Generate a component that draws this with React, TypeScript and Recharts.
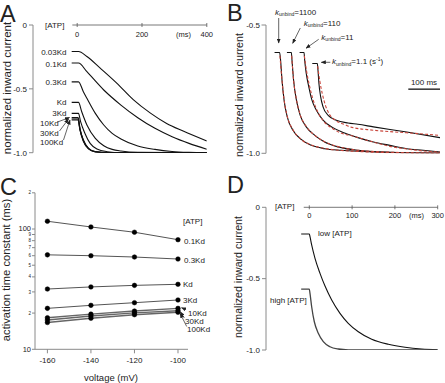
import React from 'react';
import { LineChart, Line, XAxis, YAxis, ReferenceLine } from 'recharts';

const FONT = '"Liberation Sans", Arial, Helvetica, sans-serif';
const AX = '#8a8a8a';
const TXT = '#222';
const RED = '#c8443a';

// ---------- Panel A : current traces at several [ATP] ----------
const A_TIME_TICKS = [0, 200, 400];
const A_Y_TICKS = [0, -0.5, -1];
const A_T_003 = [-17, 4, 30, 71, 122, 173, 225, 276, 327, 400];
const A_V_003 = [-0.208, -0.208, -0.247, -0.338, -0.455, -0.584, -0.688, -0.771, -0.831, -0.909];
const A_T_01 = [-17, 4, 30, 82, 135, 187, 240, 293, 345, 400];
const A_V_01 = [-0.298, -0.298, -0.366, -0.509, -0.627, -0.726, -0.809, -0.875, -0.927, -0.973];
const A_T_03 = [-17, 4, 19, 30, 56, 82, 108, 135, 187, 240, 293, 345, 400];
const A_V_03 = [-0.445, -0.445, -0.522, -0.574, -0.692, -0.783, -0.849, -0.893, -0.948, -0.974, -0.99, -0.997, -1.0];
const A_T_1 = [-17, 4, 14, 30, 56, 82, 108, 135, 187, 400];
const A_V_1 = [-0.606, -0.606, -0.679, -0.783, -0.888, -0.945, -0.974, -0.987, -0.997, -1.0];
const A_T_3 = [-17, 4, 10.5, 24, 40, 61, 93, 135, 400];
const A_V_3 = [-0.692, -0.692, -0.757, -0.849, -0.927, -0.971, -0.992, -1.0, -1.0];
const A_T_10 = [-17, 3, 8.4, 19, 35, 56, 93, 400];
const A_V_10 = [-0.726, -0.726, -0.809, -0.901, -0.966, -0.992, -1.0, -1.0];
const A_V_30 = [-0.736, -0.736, -0.815, -0.905, -0.968, -0.993, -1.0, -1.0];
const A_V_100 = [-0.744, -0.744, -0.82, -0.91, -0.97, -0.994, -1.0, -1.0];

// ---------- Panel B : traces for several k_unbind (black) and fits (red) ----------
const B_Y_TICKS = [-0.5, -1];
const B_T_1100 = [27, 43, 46, 50.5, 57, 67, 85, 111, 143, 185, 238, 290, 400, 549];
const B_V_1100 = [-0.607, -0.607, -0.637, -0.715, -0.793, -0.858, -0.91, -0.946, -0.969, -0.982, -0.988, -0.992, -0.997, -0.999];
const B_T_110 = [66, 80, 82, 87, 96, 108, 127, 154, 185, 227, 290, 400, 549];
const B_V_110 = [-0.607, -0.607, -0.637, -0.715, -0.793, -0.852, -0.897, -0.93, -0.956, -0.975, -0.988, -0.996, -1.0];
const B_T_11 = [106, 120, 122, 127, 135, 145, 159, 180, 211, 248, 290, 339, 391, 444, 496, 549];
const B_V_11 = [-0.607, -0.607, -0.637, -0.689, -0.741, -0.793, -0.832, -0.871, -0.9, -0.921, -0.939, -0.956, -0.969, -0.982, -0.988, -0.995];
const B_T_1_1 = [146, 162, 164, 167, 172.5, 180, 196, 222, 259, 290, 339, 444, 549];
const B_V_1_1 = [-0.65, -0.65, -0.676, -0.728, -0.78, -0.819, -0.852, -0.871, -0.882, -0.887, -0.897, -0.917, -0.939];
const BF_T_1100 = [44, 50.5, 57, 67, 85, 111, 143, 185, 238, 290, 400, 549];
const BF_V_1100 = [-0.62, -0.715, -0.79, -0.855, -0.908, -0.946, -0.968, -0.981, -0.989, -0.993, -0.998, -1.0];
const BF_T_110 = [81, 87, 96, 108, 127, 154, 185, 227, 290, 400, 549];
const BF_V_110 = [-0.62, -0.715, -0.79, -0.85, -0.895, -0.93, -0.955, -0.974, -0.988, -0.996, -1.0];
const BF_T_11 = [121, 128, 136, 147, 160, 182, 212, 248, 265, 318, 391, 444, 496, 549];
const BF_V_11 = [-0.62, -0.68, -0.73, -0.785, -0.83, -0.875, -0.905, -0.926, -0.93, -0.949, -0.973, -0.983, -0.991, -0.995];
const BF_T_1_1 = [163, 170, 178, 188, 200, 220, 250, 265, 339, 444, 549];
const BF_V_1_1 = [-0.66, -0.72, -0.77, -0.815, -0.848, -0.872, -0.889, -0.897, -0.91, -0.92, -0.93];
const B_SCALEBAR_MS = [449, 549];
const B_SCALEBAR_Y = -0.75;

// ---------- Panel C : activation time constant vs voltage ----------
const C_VOLT = [-160, -140, -120, -100];
const C_X_TICKS = [-160, -140, -120, -100];
const C_Y_TICKS = [10, 20, 30, 40, 50, 60, 70, 80, 90, 100, 200];
const C_01 = [116, 104, 94, 81.5];
const C_03 = [61, 60, 58.5, 56.3];
const C_1 = [31.7, 33, 34, 34.7];
const C_3 = [21.9, 23.2, 24.4, 25.7];
const C_10 = [18.3, 19.6, 20.8, 21.9];
const C_30 = [17.5, 18.9, 20.1, 20.9];
const C_100 = [16.7, 18.1, 19.4, 20.3];

// ---------- Panel D : low vs high [ATP] ----------
const D_TIME_TICKS = [0, 100, 200, 300];
const D_Y_TICKS = [0, -0.5, -1];
const D_T_LOW = [-19, 0, 1.6, 5.5, 13.3, 25, 36.7, 52.3, 71.7, 91, 114.5, 145.8, 184.6, 223.6, 262.6, 300];
const D_V_LOW = [-0.187, -0.187, -0.206, -0.264, -0.358, -0.463, -0.552, -0.65, -0.743, -0.813, -0.872, -0.925, -0.96, -0.981, -0.993, -0.998];
const D_T_HIGH = [-19, 0, 1.6, 5.5, 11.7, 21, 32.7, 48.3, 67.8, 91, 150, 300];
const D_V_HIGH = [-0.573, -0.573, -0.603, -0.697, -0.802, -0.883, -0.942, -0.977, -0.993, -0.999, -1.0, -1.0];

const zip = (xs: number[], ys: number[]) => xs.map((x, i) => ({ t: x, v: ys[i] }));
const fmtY = (v: number) => (v === 0 ? '0' : v.toFixed(1));

const makeTopTick = (fontSize: number, dy: number) => (props: any) => {
  const { x, y, payload } = props;
  return (
    <g>
      <line x1={x} x2={x} y1={y - 2} y2={y + 2} stroke="#555" strokeWidth={0.8} />
      <text x={x} y={y + dy} textAnchor="middle" fontSize={fontSize} fontFamily={FONT} fill={TXT}>
        {payload.value}
      </text>
    </g>
  );
};

const CLogTick = (props: any) => {
  const { x, y, payload } = props;
  const v = payload.value;
  const major = v === 10 || v === 100;
  const label = major ? String(v) : v >= 100 ? String(v / 100) : String(v / 10);
  return (
    <text x={x} y={y} dy={major ? 2.4 : 1.6} textAnchor="end" fontSize={major ? 7.5 : 4.5} fontFamily={FONT} fill={TXT}>
      {label}
    </text>
  );
};

const CXTick = (props: any) => {
  const { x, y, payload } = props;
  return (
    <text x={x} y={y + 8} textAnchor="middle" fontSize={8} fontFamily={FONT} fill={TXT}>
      {payload.value}
    </text>
  );
};

const yTickStyle = { fontSize: 8, fill: TXT, fontFamily: FONT };

function PanelA() {
  const lines = [
    [A_T_003, A_V_003],
    [A_T_01, A_V_01],
    [A_T_03, A_V_03],
    [A_T_1, A_V_1],
    [A_T_3, A_V_3],
    [A_T_10, A_V_10],
    [A_T_10, A_V_30],
    [A_T_10, A_V_100],
  ];
  return (
    <LineChart width={220} height={160} margin={{ top: 25, right: 13.2, bottom: 7.3, left: 0 }}>
      <XAxis
        xAxisId="t"
        dataKey="t"
        type="number"
        domain={[-136.4, 400]}
        allowDataOverflow
        orientation="top"
        mirror
        ticks={A_TIME_TICKS}
        tickSize={0}
        tickMargin={0}
        axisLine={false}
        tickLine={false}
        tick={makeTopTick(7.5, 12)}
        interval={0}
      />
      <YAxis
        type="number"
        domain={[-1, 0]}
        allowDataOverflow
        ticks={A_Y_TICKS}
        tickFormatter={fmtY}
        width={33}
        stroke={AX}
        tickSize={4}
        tickMargin={2}
        tick={yTickStyle}
        interval={0}
      />
      <ReferenceLine xAxisId="t" segment={[{ x: -15, y: 0 }, { x: 400, y: 0 }]} stroke="#555" strokeWidth={0.8} ifOverflow="visible" />
      {lines.map(([ts, vs], i) => (
        <Line
          key={i}
          xAxisId="t"
          data={zip(ts, vs)}
          dataKey="v"
          type="monotone"
          stroke="#111"
          strokeWidth={i >= 5 ? 1.2 : 1.1}
          dot={false}
          isAnimationActive={false}
        />
      ))}
    </LineChart>
  );
}

function PanelB() {
  const black = [
    [B_T_1100, B_V_1100],
    [B_T_110, B_V_110],
    [B_T_11, B_V_11],
    [B_T_1_1, B_V_1_1],
  ];
  const red = [
    [BF_T_1100, BF_V_1100],
    [BF_T_110, BF_V_110],
    [BF_T_11, BF_V_11],
    [BF_T_1_1, BF_V_1_1],
  ];
  return (
    <LineChart width={215} height={165} margin={{ top: 25, right: 5, bottom: 11.7, left: 0 }}>
      <XAxis dataKey="t" type="number" domain={[0, 549]} allowDataOverflow hide />
      <YAxis
        type="number"
        domain={[-1, -0.5]}
        allowDataOverflow
        ticks={B_Y_TICKS}
        tickFormatter={fmtY}
        width={36}
        stroke={AX}
        tickSize={4.5}
        tickMargin={1.5}
        tick={yTickStyle}
        interval={0}
      />
      {black.map(([ts, vs], i) => (
        <Line key={'b' + i} data={zip(ts, vs)} dataKey="v" type="monotone" stroke="#111" strokeWidth={1.1} dot={false} isAnimationActive={false} />
      ))}
      {red.map(([ts, vs], i) => (
        <Line key={'r' + i} data={zip(ts, vs)} dataKey="v" type="monotone" stroke={RED} strokeWidth={1.1} strokeDasharray="3 2" dot={false} isAnimationActive={false} />
      ))}
      <ReferenceLine
        segment={[{ x: B_SCALEBAR_MS[0], y: B_SCALEBAR_Y }, { x: B_SCALEBAR_MS[1], y: B_SCALEBAR_Y }]}
        stroke="#111"
        strokeWidth={1.3}
        ifOverflow="visible"
      />
    </LineChart>
  );
}

function PanelC() {
  const series = [C_01, C_03, C_1, C_3, C_10, C_30, C_100];
  return (
    <LineChart width={200} height={198} margin={{ top: 7.8, right: 12, bottom: 13.7, left: 0 }}>
      <XAxis
        dataKey="t"
        type="number"
        domain={[-165.7, -95.4]}
        allowDataOverflow
        ticks={C_X_TICKS}
        height={20}
        stroke={AX}
        tickSize={4}
        tick={CXTick}
        interval={0}
      />
      <YAxis
        type="number"
        scale="log"
        domain={[10, 200]}
        allowDataOverflow
        ticks={C_Y_TICKS}
        width={35}
        stroke={AX}
        tickSize={3}
        tickMargin={1}
        tick={CLogTick}
        interval={0}
      />
      {series.map((vals, i) => (
        <Line
          key={i}
          data={zip(C_VOLT, vals)}
          dataKey="v"
          type="linear"
          stroke={i >= 4 ? '#666' : '#555'}
          strokeWidth={i >= 4 ? 1.4 : 1}
          dot={{ r: 2.3, fill: '#000', stroke: '#000', strokeWidth: 0.5 }}
          isAnimationActive={false}
        />
      ))}
    </LineChart>
  );
}

function PanelD() {
  return (
    <LineChart width={215} height={175} margin={{ top: 22.3, right: 7.3, bottom: 10, left: 0 }}>
      <XAxis
        xAxisId="t"
        dataKey="t"
        type="number"
        domain={[-101.2, 300]}
        allowDataOverflow
        orientation="top"
        mirror
        ticks={D_TIME_TICKS}
        tickSize={0}
        tickMargin={0}
        axisLine={false}
        tickLine={false}
        tick={makeTopTick(7.5, 10.5)}
        interval={0}
      />
      <YAxis
        type="number"
        domain={[-1, 0]}
        allowDataOverflow
        ticks={D_Y_TICKS}
        tickFormatter={fmtY}
        width={36}
        stroke={AX}
        tickSize={4}
        tickMargin={2}
        tick={yTickStyle}
        interval={0}
      />
      <ReferenceLine xAxisId="t" segment={[{ x: -13, y: 0 }, { x: 300, y: 0 }]} stroke="#555" strokeWidth={0.8} ifOverflow="visible" />
      <Line xAxisId="t" data={zip(D_T_LOW, D_V_LOW)} dataKey="v" type="monotone" stroke="#111" strokeWidth={1.1} dot={false} isAnimationActive={false} />
      <Line xAxisId="t" data={zip(D_T_HIGH, D_V_HIGH)} dataKey="v" type="monotone" stroke="#444" strokeWidth={1.3} dot={false} isAnimationActive={false} />
    </LineChart>
  );
}

const T = ({ x, y, s = 8, a = 'start', children, italic }: any) => (
  <text x={x} y={y} fontSize={s} textAnchor={a} fontFamily={FONT} fill={TXT} fontStyle={italic ? 'italic' : undefined}>
    {children}
  </text>
);

const VT = ({ cx, cy, s, children }: any) => (
  <text
    x={cx}
    y={cy}
    fontSize={s}
    textAnchor="middle"
    dominantBaseline="central"
    fontFamily={FONT}
    fill={TXT}
    transform={`rotate(-90 ${cx} ${cy})`}
  >
    {children}
  </text>
);

const Arrow = ({ x1, y1, x2, y2 }: any) => (
  <line x1={x1} y1={y1} x2={x2} y2={y2} stroke="#222" strokeWidth={0.7} markerEnd="url(#ah)" />
);

const K = ({ x, y, val, unit }: any) => (
  <text x={x} y={y} fontSize={8} fontFamily={FONT} fill={TXT}>
    <tspan fontStyle="italic">k</tspan>
    <tspan fontSize={5.1} dy={1.6}>unbind</tspan>
    <tspan dy={-1.6}>={val}</tspan>
    {unit ? (
      <>
        <tspan> (s</tspan>
        <tspan fontSize={5} dy={-3}>-1</tspan>
        <tspan dy={3}>)</tspan>
      </>
    ) : null}
  </text>
);

function Overlay() {
  return (
    <svg width={445} height={383} style={{ position: 'absolute', left: 0, top: 0, pointerEvents: 'none' }}>
      <defs>
        <marker id="ah" markerUnits="userSpaceOnUse" markerWidth={5} markerHeight={4} refX={4.5} refY={2} orient="auto">
          <path d="M0,0 L5,2 L0,4 z" fill="#222" />
        </marker>
      </defs>
      {/* panel letters */}
      <T x={0} y={22} s={23.5}>A</T>
      <T x={227} y={21} s={23.5}>B</T>
      <T x={0} y={195} s={23.5}>C</T>
      <T x={227} y={193} s={23.5}>D</T>

      {/* Panel A */}
      <VT cx={7} cy={88} s={11.5}>normalized inward current</VT>
      <T x={45} y={28}>[ATP]</T>
      <T x={176} y={37} s={7.5}>(ms)</T>
      <T x={66.5} y={55} a="end">0.03Kd</T>
      <T x={66.5} y={67} a="end">0.1Kd</T>
      <T x={66.5} y={85.3} a="end">0.3Kd</T>
      <T x={66.5} y={105.3} a="end">Kd</T>
      <T x={66.5} y={116.3} a="end">3Kd</T>
      <T x={40} y={126.3}>10Kd</T>
      <T x={40} y={136.3}>30Kd</T>
      <T x={40} y={145}>100Kd</T>
      <Arrow x1={57.5} y1={122} x2={69.5} y2={117.5} />
      <Arrow x1={59.5} y1={131} x2={68.5} y2={119} />
      <Arrow x1={63.5} y1={140} x2={70} y2={120} />

      {/* Panel B */}
      <VT cx={238.5} cy={95} s={10.8}>normalized inward current</VT>
      <K x={275} y={14.5} val="1100" />
      <K x={303.7} y={25.5} val="110" />
      <K x={321.3} y={39.5} val="11" />
      <K x={332} y={64} val="1.1" unit />
      <Arrow x1={278.7} y1={18} x2={278.7} y2={43} />
      <Arrow x1={300.3} y1={28} x2={292.7} y2={43.3} />
      <Arrow x1={318.7} y1={39.3} x2={306} y2={48.3} />
      <Arrow x1={330.3} y1={62.3} x2={321.3} y2={62.3} />
      <T x={424} y={84.5} a="middle">100 ms</T>

      {/* Panel C */}
      <VT cx={6} cy={270} s={11.2}>activation time constant (ms)</VT>
      <T x={111} y={381} a="middle" s={9.5}>voltage (mV)</T>
      <T x={183} y={224}>[ATP]</T>
      <T x={184} y={244}>0.1Kd</T>
      <T x={184} y={262.5}>0.3Kd</T>
      <T x={183} y={287}>Kd</T>
      <T x={183} y={303}>3Kd</T>
      <T x={188} y={315.5}>10Kd</T>
      <T x={185} y={324}>30Kd</T>
      <T x={187} y={332}>100Kd</T>
      <Arrow x1={186} y1={309.5} x2={181.5} y2={307.8} />
      <Arrow x1={184.3} y1={318} x2={180.5} y2={312} />
      <Arrow x1={186.7} y1={326.5} x2={180.2} y2={313.5} />

      {/* Panel D */}
      <VT cx={238} cy={277} s={10.6}>normalized inward current</VT>
      <T x={275} y={209}>[ATP]</T>
      <T x={409} y={218} s={7.5}>(ms)</T>
      <T x={318} y={236}>low [ATP]</T>
      <T x={270} y={303}>high [ATP]</T>
    </svg>
  );
}

export default function App() {
  return (
    <div style={{ position: 'absolute', left: 0, top: 0, width: 445, height: 383, background: '#fff', fontFamily: FONT }}>
      <div style={{ position: 'absolute', left: 0, top: 0 }}>
        <PanelA />
      </div>
      <div style={{ position: 'absolute', left: 230, top: 0 }}>
        <PanelB />
      </div>
      <div style={{ position: 'absolute', left: 0, top: 185 }}>
        <PanelC />
      </div>
      <div style={{ position: 'absolute', left: 230, top: 185 }}>
        <PanelD />
      </div>
      <Overlay />
    </div>
  );
}
